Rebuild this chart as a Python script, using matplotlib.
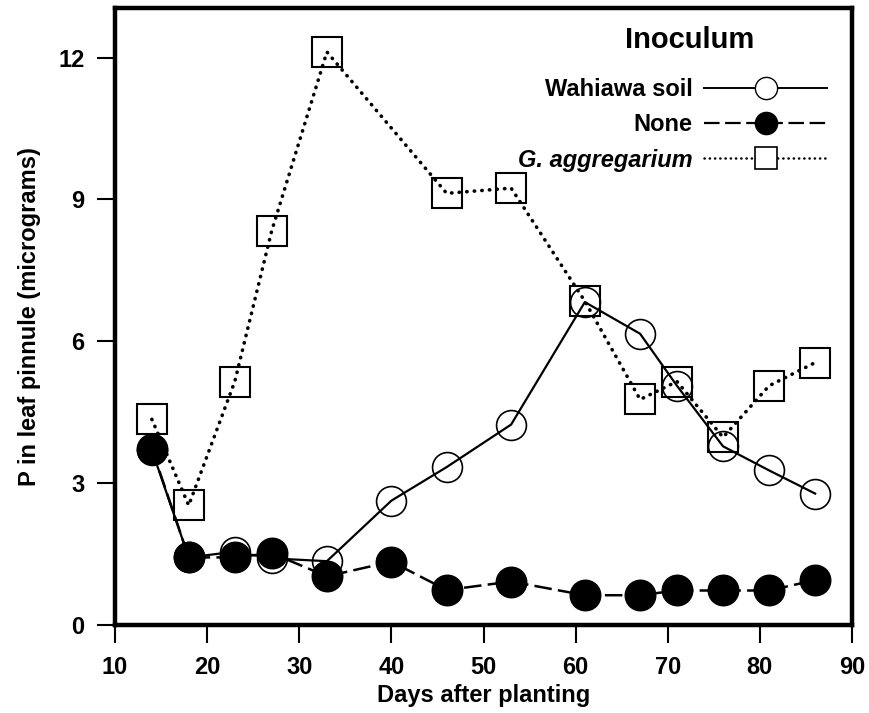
import matplotlib
matplotlib.use("Agg")
import matplotlib.pyplot as plt
from matplotlib.lines import Line2D

plt.rcParams['font.family'] = ['Liberation Sans', 'DejaVu Sans']
plt.rcParams['font.weight'] = 'bold'

# Данные: содержание P в листе по дням после посадки
days = [14, 18, 23, 27, 33, 40, 46, 53, 61, 67, 71, 76, 81, 86]
wahiawa = [3.70, 1.43, 1.55, 1.41, 1.35, 2.63, 3.34, 4.24, 6.83, 6.16, 5.06, 3.78, 3.27, 2.78]
none = [3.73, 1.43, 1.43, 1.52, 1.03, 1.34, 0.74, 0.92, 0.63, 0.63, 0.73, 0.73, 0.73, 0.95]
g_days = [14, 18, 23, 27, 33, 46, 53, 61, 67, 71, 76, 81, 86]
g_aggregarium = [4.35, 2.53, 5.15, 8.33, 12.12, 9.13, 9.24, 6.85, 4.77, 5.15, 3.97, 5.06, 5.55]

x_ticks = [10, 20, 30, 40, 50, 60, 70, 80, 90]
y_ticks = [0, 3, 6, 9, 12]

fig = plt.figure(figsize=(8.7, 7.13), dpi=100)
ax = fig.add_axes([0.1322, 0.1234, 0.8471, 0.8654])

dotted = (0, (0.1, 2.0))
dashed = (0, (7, 2.5))

ax.plot(g_days, g_aggregarium, color='black', lw=2.6, linestyle=dotted,
        dash_capstyle='round', marker='s', markersize=22, markerfacecolor='none',
        markeredgecolor='black', markeredgewidth=1.5, zorder=2)
ax.plot(days, wahiawa, color='black', lw=1.6, linestyle='-',
        marker='o', markersize=21.5, markerfacecolor='none',
        markeredgecolor='black', markeredgewidth=1.2, zorder=3)
ax.plot(days, none, color='black', lw=1.8, linestyle=dashed,
        marker='o', markersize=22, markerfacecolor='black',
        markeredgecolor='black', zorder=4)

ax.set_xlim(10, 90)
ax.set_ylim(0, 13.05)
ax.set_xticks(x_ticks)
ax.set_yticks(y_ticks)
ax.tick_params(direction='out', length=13, width=1.5, labelsize=17, pad=9)
for side in ['left', 'right', 'top', 'bottom']:
    ax.spines[side].set_linewidth(3.2)

ax.set_xlabel('Days after planting', fontsize=17, fontweight='bold', labelpad=4)
ax.set_ylabel('P in leaf pinnule (micrograms)', fontsize=17, fontweight='bold', labelpad=12)

# Легенда: подпись слева, значок справа
handles = [
    Line2D([], [], color='black', lw=1.4, linestyle='-', marker='o', markersize=16,
           markerfacecolor='white', markeredgewidth=1.0),
    Line2D([], [], color='black', lw=1.6, linestyle=dashed, marker='o', markersize=16,
           markerfacecolor='black'),
    Line2D([], [], color='black', lw=1.8, linestyle=dotted, dash_capstyle='round',
           marker='s', markersize=16, markerfacecolor='white', markeredgewidth=1.2),
]
labels = ['Wahiawa soil', 'None', 'G. aggregarium']
leg = ax.legend(handles, labels, loc='upper right', bbox_to_anchor=(0.995, 0.921),
                markerfirst=False, frameon=False, fontsize=17, handlelength=5.2,
                handletextpad=0.5, labelspacing=0.52)
leg.get_texts()[2].set_style('italic')

ax.text(0.78, 0.948, 'Inoculum', transform=ax.transAxes, fontsize=21,
        fontweight='bold', ha='center', va='center')

plt.savefig('out.png', dpi=100)
